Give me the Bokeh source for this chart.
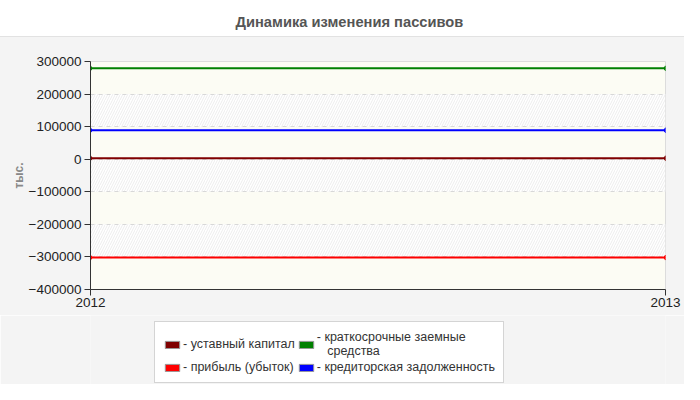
from bokeh.plotting import figure
from bokeh.layouts import column
from bokeh.models import (Range1d, FixedTicker, Legend, LegendItem, BasicTickFormatter, Title)
from bokeh.embed import file_html
from bokeh.resources import INLINE

# ---- data ----
years = [2012, 2013]
ustavny_kapital = [3000, 3000]
kratkosroch = [279000, 279000]
pribyl = [-302000, -302000]
kreditor = [89000, 89000]

series_names = ["- уставный капитал", "- прибыль (убыток)",
                "- краткосрочные заемные\n\u00a0\u00a0\u00a0средства", "- кредиторская задолженность"]
series_values = [ustavny_kapital, pribyl, kratkosroch, kreditor]
series_colors = ["#800000", "#ff0000", "#008000", "#0000ff"]
y_ticks = [-400000, -300000, -200000, -100000, 0, 100000, 200000, 300000]
x_ticks = [2012, 2013]
title_text = "Динамика изменения пассивов"
y_label = "тыс."

FONT = "Liberation Sans"

# ---------------- main chart ----------------
p = figure(frame_width=575, frame_height=228, output_backend="svg", toolbar_location=None,
           x_range=Range1d(2012, 2013), y_range=Range1d(-400000, 300000),
           min_border_left=90, min_border_right=19, min_border_top=61, min_border_bottom=26)

p.border_fill_color = None
p.border_fill_alpha = 0
p.styles = {"background": "linear-gradient(to bottom, #ffffff 0px, #ffffff 36px, #e2e2e2 36px, #e2e2e2 37px, #f4f4f4 37px, #f4f4f4 100%)"}
p.background_fill_color = "#fcfcf4"
p.outline_line_color = "#dcdcdc"

p.title.text = ""
p.add_layout(Title(text=" ", text_font_size="10px", standoff=14), "above")
p.add_layout(Title(text=title_text, align="left", offset=145, standoff=10,
                   text_font=FONT, text_font_size="14.7px", text_font_style="bold",
                   text_color="#555555"), "above")

p.xaxis.ticker = FixedTicker(ticks=x_ticks)
p.yaxis.ticker = FixedTicker(ticks=y_ticks)
for ax in (p.xaxis, p.yaxis):
    ax.formatter = BasicTickFormatter(use_scientific=False)
    ax.axis_line_color = "#333333"
    ax.major_tick_line_color = "#333333"
    ax.major_tick_out = 6
    ax.major_tick_in = 0
    ax.minor_tick_line_color = None
    ax.major_label_text_font = FONT
    ax.major_label_text_font_size = "13.5px"
    ax.major_label_text_color = "#222222"
p.yaxis.major_label_standoff = 3
p.xaxis.major_label_standoff = 2
p.yaxis.axis_label = y_label
p.yaxis.axis_label_text_font = FONT
p.yaxis.axis_label_text_font_size = "12px"
p.yaxis.axis_label_text_font_style = "bold"
p.yaxis.axis_label_text_color = "#888888"
p.yaxis.axis_label_standoff = 0

p.xgrid.visible = False
p.ygrid.ticker = FixedTicker(ticks=y_ticks)
p.ygrid.grid_line_color = "#d8d8d8"
p.ygrid.grid_line_dash = "4 4"
p.ygrid.band_fill_color = "white"
p.ygrid.band_fill_alpha = 1
p.ygrid.band_hatch_pattern = "/"
p.ygrid.band_hatch_color = "#ededed"
p.ygrid.band_hatch_scale = 5
p.ygrid.band_hatch_weight = 1

for vals, col in zip(series_values, series_colors):
    p.line(years, vals, line_color=col, line_width=2)
    p.scatter(years, vals, marker="diamond", size=5, color=col)

# ---------------- legend strip ----------------
lg = figure(width=684, height=69, output_backend="svg", toolbar_location=None,
            x_axis_location=None, y_axis_location=None,
            x_range=Range1d(2012, 2013), y_range=Range1d(-400000, 300000),
            min_border_left=90, min_border_right=19, min_border_top=0, min_border_bottom=0)
lg.border_fill_color = "#f4f4f4"
lg.background_fill_color = "#f4f4f4"
lg.outline_line_color = None
lg.grid.visible = False

items = []
for name, vals, col in zip(series_names, series_values, series_colors):
    sw = lg.rect(x=years, y=vals, width=0, height=0, fill_color=col, fill_alpha=1,
                 line_color="#999999", line_alpha=1)
    items.append(LegendItem(label=name, renderers=[sw]))

legend = Legend(items=items, ncols=2, location=(64, 1),
                glyph_width=18, glyph_height=9, label_height=14, spacing=2,
                padding=8, margin=0, label_standoff=2,
                label_text_font=FONT, label_text_font_size="12.5px", label_text_color="#333333",
                border_line_color="#aaaaaa", background_fill_color="white", background_fill_alpha=1)
lg.add_layout(legend, "center")

layout = column(p, lg, spacing=0)
open("out.html", "w").write(file_html(layout, INLINE))
